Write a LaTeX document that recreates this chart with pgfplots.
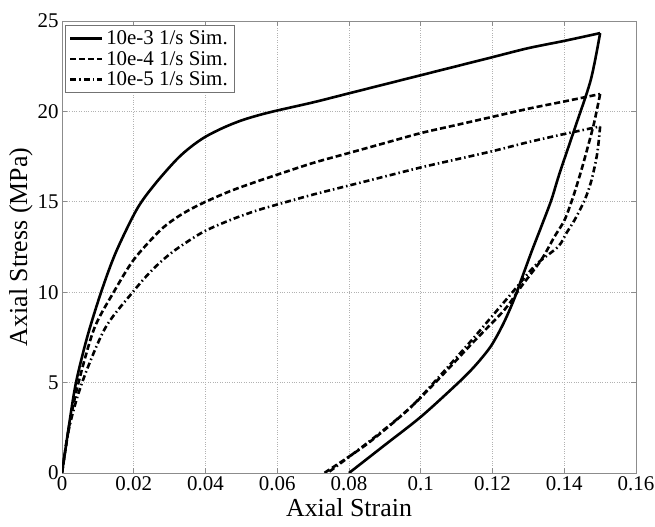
\documentclass[border=0pt]{standalone}
\usepackage{fontspec}
\setmainfont{Liberation Serif}
\usepackage{pgfplots}
\pgfplotsset{compat=1.18}
\begin{document}
\begin{tikzpicture}
\useasboundingbox (0,0) rectangle (655bp,527bp);
\begin{axis}[
  at={(62bp,54bp)}, anchor=south west,
  scale only axis, width=574bp, height=452bp,
  xmin=0, xmax=0.16, ymin=0, ymax=25,
  xtick={0,0.02,0.04,0.06,0.08,0.1,0.12,0.14,0.16},
  xticklabels={0,0.02,0.04,0.06,0.08,0.1,0.12,0.14,0.16},
  ytick={0,5,10,15,20,25},
  yticklabels={0,5,10,15,20,25},
  tick align=inside, major tick length=5bp,
  xtick pos=both, ytick pos=both,
  axis line style={black!45, line width=0.6bp},
  every tick/.style={black!45, line width=0.6bp},
  grid=major,
  major grid style={black!30, dotted, line width=0.6bp},
  tick label style={font=\fontsize{21}{24}\selectfont},
  label style={font=\fontsize{26}{29}\selectfont},
  xlabel={Axial Strain},
  xlabel style={yshift=-1bp},
  ylabel={Axial Stress (MPa)},
  ylabel style={yshift=-2bp},
  legend style={at={(axis description cs:0.005,0.991)}, anchor=north west,
    draw=black!55, line width=0.6bp, font=\fontsize{21}{24}\selectfont,
    inner xsep=4bp, inner ysep=3bp, row sep=0bp,
    nodes={inner sep=2.5bp}},
  legend cell align=left,
  legend image code/.code={\draw[#1] (0bp,0bp) -- (32bp,0bp);},
  every axis plot/.append style={black, line width=2.6bp},
]
\addplot[solid, smooth] coordinates {
(0,0) (0.002,2.7) (0.0039,5) (0.007,7.5) (0.0109,10) (0.015,12.2) (0.0209,14.6)
(0.026,16.0) (0.032,17.35) (0.036,18.05) (0.04,18.6) (0.045,19.1) (0.05,19.5)
(0.055,19.8) (0.06,20.05)
(0.07,20.5) (0.08,21.0) (0.09,21.5) (0.1,22.0) (0.11,22.5) (0.12,23.0) (0.13,23.5)
(0.14,23.9) (0.150,24.33)
};
\addlegendentry{10e-3 1/s Sim.}
\addplot[dash pattern=on 6bp off 3bp, smooth] coordinates {
(0,0) (0.002,2.6) (0.0046,5) (0.009,8) (0.0144,10) (0.02,11.8) (0.027,13.35)
(0.031,14.0) (0.035,14.5) (0.04,15.0) (0.047,15.6) (0.054,16.1) (0.06,16.5) (0.07,17.15)
(0.08,17.7) (0.09,18.25) (0.1,18.8) (0.11,19.25) (0.12,19.7) (0.13,20.15)
(0.14,20.55) (0.15,20.96)
};
\addlegendentry{10e-4 1/s Sim.}
\addplot[dash pattern=on 6bp off 3bp on 1.5bp off 3bp, smooth] coordinates {
(0,0) (0.002,2.5) (0.0056,5) (0.012,8.0) (0.0197,10) (0.025,11.2) (0.03,12.1)
(0.035,12.8) (0.04,13.4) (0.047,14.0) (0.054,14.5) (0.06,14.85) (0.07,15.4)
(0.08,15.9) (0.09,16.4) (0.1,16.9) (0.11,17.35) (0.12,17.8) (0.13,18.3)
(0.14,18.75) (0.15,19.17)
};
\addlegendentry{10e-5 1/s Sim.}
% unloading branches
\addplot[solid, smooth, forget plot] coordinates {
(0.150,24.33) (0.1474,21.75) (0.1430,19.1) (0.1387,16.58) (0.1364,15.1)
(0.1336,13.63) (0.1310,12.3) (0.1285,10.95) (0.1260,9.6) (0.1230,8.25)
(0.1195,7.0) (0.115,5.9) (0.1103,4.96) (0.1001,3.12) (0.09,1.55) (0.080,0)
};
\addplot[dash pattern=on 6bp off 3bp, smooth, forget plot] coordinates {
(0.15,20.96) (0.1483,19.35) (0.1466,18.06) (0.1448,16.77) (0.1425,15.29)
(0.1401,14.0) (0.1373,13.08) (0.1336,11.79) (0.128,10.31) (0.1233,9.02)
(0.1147,7.25) (0.105,5.2) (0.0964,3.49) (0.085,1.6) (0.0731,0)
};
\addplot[dash pattern=on 6bp off 3bp on 1.5bp off 3bp, smooth, forget plot] coordinates {
(0.15,19.17) (0.1492,17.69) (0.1476,16.2) (0.1457,15.1) (0.1429,14.0)
(0.1406,13.27) (0.1383,12.52) (0.132,11.5) (0.126,10.1) (0.12,8.7)
(0.114,7.3) (0.105,5.3) (0.097,3.6) (0.086,1.8) (0.074,0)
};
\end{axis}
\end{tikzpicture}
\end{document}
